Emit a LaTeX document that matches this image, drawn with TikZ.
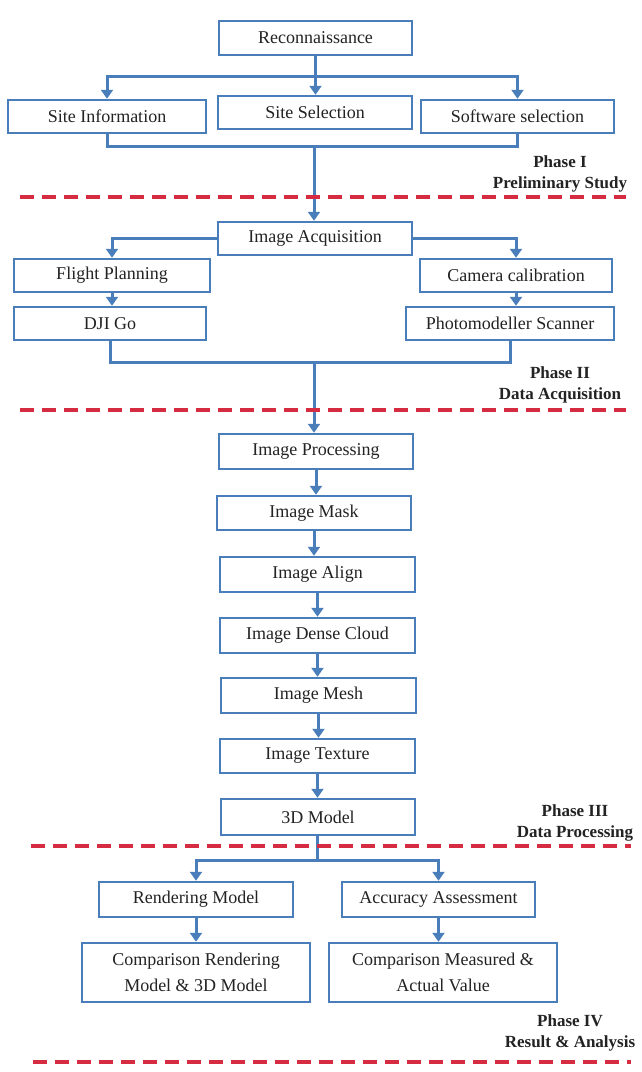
\documentclass[tikz,border=0pt]{standalone}
\usepackage{fontspec}
\setmainfont{Liberation Serif}
\usetikzlibrary{arrows.meta}
\definecolor{bl}{RGB}{74,126,187}
\definecolor{rd}{RGB}{214,44,66}
\definecolor{tx}{RGB}{35,35,35}
\tikzset{
  box/.style={draw=bl, line width=2.5pt, fill=white, text=tx, inner sep=1pt,
    font=\fontsize{18}{21}\selectfont},
  twobox/.style={box, align=center, font=\fontsize{18}{26}\selectfont},
  conn/.style={draw=bl, line width=3pt},
  arr/.style={conn, -{Triangle[width=12pt,length=9pt]}},
  phase/.style={align=center, text=tx, font=\fontsize{17}{21}\selectfont\bfseries},
  sep/.style={draw=rd, line width=3.2pt, dash pattern=on 14pt off 8pt}
}
\begin{document}
\begin{tikzpicture}[x=1pt,y=-1pt]
\useasboundingbox[fill=white] (0,0) rectangle (641,1072);
% Phase I
\node[box, minimum width=193pt, minimum height=34pt] (rec) at (315.5,38) {Reconnaissance};
\node[box, minimum width=198pt, minimum height=33pt] (si) at (107,116.5) {Site Information};
\node[box, minimum width=194pt, minimum height=33pt] (ss) at (315,112.5) {Site Selection};
\node[box, minimum width=193pt, minimum height=33pt] (sw) at (517.5,116.5) {Software selection};
\coordinate (h1) at (315.5,76);
\coordinate (b1) at (314,146);
\draw[arr] (rec.south) -- (rec.south |- ss.north);
\draw[arr] (h1) -| (si.north);
\draw[arr] (h1) -| (sw.north);
\draw[conn] (si.south) |- (b1) -| (sw.south);
\node[phase] (p1) at (560,174) {Phase I\\Preliminary Study};
% Phase II
\node[box, minimum width=194pt, minimum height=33pt] (ia) at (315,238.5) {Image Acquisition};
\node[box, minimum width=196pt, minimum height=33pt] (fp) at (112,275.5) {Flight Planning};
\node[box, minimum width=192pt, minimum height=33pt] (cc) at (516,275.5) {Camera calibration};
\node[box, minimum width=192pt, minimum height=33pt] (dji) at (110,323.5) {DJI Go};
\node[box, minimum width=208pt, minimum height=33pt] (pm) at (510,323.5) {Photomodeller Scanner};
\draw[arr] (b1) -- (b1 |- ia.north);
\draw[arr] (ia.west) -| (fp.north);
\draw[arr] (ia.east) -| (cc.north);
\draw[arr] (fp.south) -- (fp.south |- dji.north);
\draw[arr] (cc.south) -- (cc.south |- pm.north);
\coordinate (b2) at (314,362);
\draw[conn] (dji.south) |- (b2) -| (pm.south);
\node[phase] (p2) at (560,385) {Phase II\\Data Acquisition};
% Phase III
\node[box, minimum width=194pt, minimum height=35pt] (ip) at (316,451.5) {Image Processing};
\node[box, minimum width=194pt, minimum height=34pt] (im) at (314,513) {Image Mask};
\node[box, minimum width=195pt, minimum height=35pt] (ial) at (317.5,574.5) {Image Align};
\node[box, minimum width=195pt, minimum height=35pt] (idc) at (317.5,635.5) {Image Dense Cloud};
\node[box, minimum width=195pt, minimum height=35pt] (ime) at (318.5,695.5) {Image Mesh};
\node[box, minimum width=195pt, minimum height=34pt] (it) at (317.5,756) {Image Texture};
\node[box, minimum width=194pt, minimum height=36pt] (m3) at (318,817) {3D Model};
\draw[arr] (b2) -- (b2 |- ip.north);
\draw[arr] (ip.south) -- (ip.south |- im.north);
\draw[arr] (im.south) -- (im.south |- ial.north);
\draw[arr] (ial.south) -- (ial.south |- idc.north);
\draw[arr] (idc.south) -- (idc.south |- ime.north);
\draw[arr] (ime.south) -- (ime.south |- it.north);
\draw[arr] (it.south) -- (it.south |- m3.north);
\node[phase] (p3) at (575,823) {Phase III\\Data Processing};
% Phase IV
\node[box, minimum width=194pt, minimum height=35pt] (rm) at (196,899.5) {Rendering Model};
\node[box, minimum width=193pt, minimum height=35pt] (aa) at (438.5,899.5) {Accuracy Assessment};
\node[twobox, minimum width=228pt, minimum height=59pt] (cr) at (196,972.5) {Comparison Rendering\\Model \& 3D Model};
\node[twobox, minimum width=228pt, minimum height=59pt] (cm) at (443,972.5) {Comparison Measured \&\\Actual Value};
\coordinate (b3) at (317,860);
\draw[conn] (m3.south -| b3) -- (b3);
\draw[arr] (b3) -| (rm.north);
\draw[arr] (b3) -| (aa.north);
\draw[arr] (rm.south) -- (rm.south |- cr.north);
\draw[arr] (aa.south) -- (aa.south |- cm.north);
\node[phase] (p4) at (570,1033) {Phase IV\\Result \& Analysis};
% separators
\draw[sep] (20,197) -- (626,197);
\draw[sep] (20,410) -- (626,410);
\draw[sep] (31,846) -- (631,846);
\draw[sep] (33,1062) -- (631,1062);
\end{tikzpicture}
\end{document}
